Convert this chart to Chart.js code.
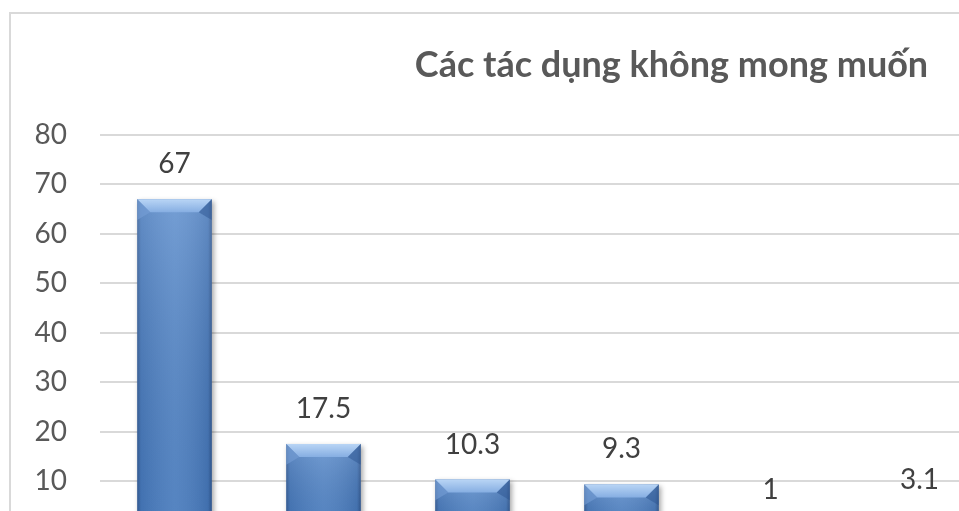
<!DOCTYPE html>
<html lang="vi">
<head>
<meta charset="utf-8">
<title>Các tác dụng không mong muốn</title>
<script src="https://cdn.jsdelivr.net/npm/chart.js@4.4.1/dist/chart.umd.min.js"></script>
<style>
  html, body { margin: 0; padding: 0; background: #ffffff; overflow: hidden; width: 959px; height: 511px; }
  #frame {
    position: absolute; left: 9px; top: 12px;
    width: 1326px; height: 600px;
    border: 2px solid #d9d9d9; background: #ffffff;
  }
  #frame canvas { display: block; }
</style>
</head>
<body>
<div id="frame"><canvas id="chart"></canvas></div>
<script>
// Chart content
const chartTitle = 'Các tác dụng không mong muốn';
const categories = ['1', '2', '3', '4', '5', '6'];
const values = [67, 17.5, 10.3, 9.3, 1, 3.1];
const yTicks = [0, 10, 20, 30, 40, 50, 60, 70, 80];

const FONT = "Lato, Carlito, 'Open Sans', sans-serif";

// Title centred over the whole chart frame (not just the plot area)
const frameTitle = {
  id: 'frameTitle',
  afterDraw(chart) {
    const ctx = chart.ctx;
    ctx.save();
    ctx.font = 'bold 36px ' + FONT;
    ctx.fillStyle = '#595959';
    ctx.textAlign = 'center';
    ctx.textBaseline = 'alphabetic';
    ctx.fillText(chartTitle, chart.width / 2 - 2.5, 63);
    ctx.restore();
  }
};

// Drop shadow under the bars
const barShadow = {
  id: 'barShadow',
  beforeDatasetsDraw(chart) {
    const ctx = chart.ctx;
    ctx.save();
    ctx.shadowColor = 'rgba(0,0,0,0.35)';
    ctx.shadowBlur = 5;
    ctx.shadowOffsetX = 2;
    ctx.shadowOffsetY = 2;
  },
  afterDatasetsDraw(chart) {
    chart.ctx.restore();
  }
};

// Bevelled, shaded look on top of each bar
const barBevel = {
  id: 'barBevel',
  afterDatasetsDraw(chart) {
    const ctx = chart.ctx;
    const meta = chart.getDatasetMeta(0);
    ctx.save();
    ctx.beginPath();
    ctx.rect(chart.chartArea.left, chart.chartArea.top - 40,
             chart.chartArea.right - chart.chartArea.left,
             chart.chartArea.bottom - chart.chartArea.top + 40);
    ctx.clip();
    meta.data.forEach((bar) => {
      const { x, y, base, width } = bar.getProps(['x', 'y', 'base', 'width'], true);
      const x0 = x - width / 2, x1 = x + width / 2;
      const top = Math.min(y, base), bottom = Math.max(y, base);
      const h = bottom - top;
      if (h <= 0) return;

      // side shading
      const hg = ctx.createLinearGradient(x0, 0, x1, 0);
      hg.addColorStop(0, 'rgba(20,45,90,0.45)');
      hg.addColorStop(0.05, 'rgba(20,45,90,0.12)');
      hg.addColorStop(0.5, 'rgba(255,255,255,0.08)');
      hg.addColorStop(0.95, 'rgba(20,45,90,0.15)');
      hg.addColorStop(1, 'rgba(20,45,90,0.5)');
      ctx.fillStyle = hg;
      ctx.fillRect(x0, top, width, h);

      // slight vertical lightening toward the top
      const vg = ctx.createLinearGradient(0, top, 0, top + Math.max(h, 1));
      vg.addColorStop(0, 'rgba(255,255,255,0.16)');
      vg.addColorStop(1, 'rgba(0,0,0,0.05)');
      ctx.fillStyle = vg;
      ctx.fillRect(x0, top, width, h);

      // bevelled top face
      const b = Math.min(13, h / 2, width / 2);
      const tg = ctx.createLinearGradient(0, top, 0, top + b);
      tg.addColorStop(0, '#b9d5f5');
      tg.addColorStop(1, '#86aee2');
      ctx.fillStyle = tg;
      ctx.beginPath();
      ctx.moveTo(x0, top);
      ctx.lineTo(x1, top);
      ctx.lineTo(x1 - b, top + b);
      ctx.lineTo(x0 + b, top + b);
      ctx.closePath();
      ctx.fill();

      // bevel side corners
      ctx.fillStyle = 'rgba(120,160,215,0.55)';
      ctx.beginPath();
      ctx.moveTo(x0, top);
      ctx.lineTo(x0 + b, top + b);
      ctx.lineTo(x0, top + b * 1.6);
      ctx.closePath();
      ctx.fill();
      ctx.fillStyle = 'rgba(40,80,140,0.45)';
      ctx.beginPath();
      ctx.moveTo(x1, top);
      ctx.lineTo(x1 - b, top + b);
      ctx.lineTo(x1, top + b * 1.6);
      ctx.closePath();
      ctx.fill();
    });
    ctx.restore();
  }
};

// Value labels above the bars
const valueLabels = {
  id: 'valueLabels',
  afterDatasetsDraw(chart) {
    const ctx = chart.ctx;
    const meta = chart.getDatasetMeta(0);
    ctx.save();
    ctx.font = '28px ' + FONT;
    ctx.fillStyle = '#404040';
    ctx.textAlign = 'center';
    ctx.textBaseline = 'middle';
    meta.data.forEach((bar, i) => {
      const { x, y } = bar.getProps(['x', 'y'], true);
      ctx.fillText(String(values[i]), x, y - 35);
    });
    ctx.restore();
  }
};

new Chart(document.getElementById('chart'), {
  type: 'bar',
  data: {
    labels: categories,
    datasets: [{
      data: values,
      backgroundColor: '#4c82c8',
      borderWidth: 0,
      categoryPercentage: 1,
      barPercentage: 0.5
    }]
  },
  options: {
    responsive: true,
    maintainAspectRatio: false,
    animation: false,
    events: [],
    layout: { padding: { left: 0, top: 121, right: 343, bottom: 43.6 } },
    plugins: {
      legend: { display: false },
      tooltip: { enabled: false },
      title: { display: false }
    },
    scales: {
      x: {
        grid: { display: false },
        border: { display: true, color: '#d9d9d9', width: 2 },
        ticks: { display: false },
        afterFit(scale) { scale.height = 40; }
      },
      y: {
        min: 0,
        max: 80,
        afterBuildTicks(scale) { scale.ticks = yTicks.map(v => ({ value: v })); },
        grid: { color: '#d9d9d9', lineWidth: 2, drawTicks: false },
        border: { display: false },
        ticks: {
          color: '#595959',
          font: { family: FONT, size: 28 },
          padding: 33
        },
        afterFit(scale) { scale.width = 89; }
      }
    }
  },
  plugins: [frameTitle, barShadow, barBevel, valueLabels]
});
</script>
</body>
</html>
